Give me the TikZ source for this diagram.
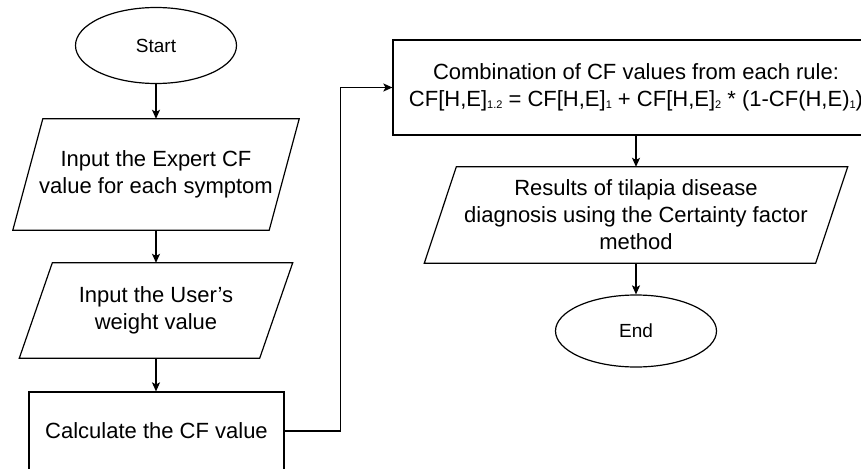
\documentclass[tikz,border=0pt]{standalone}
\usepackage{fontspec}
\setmainfont{Liberation Sans}
\usetikzlibrary{shapes.geometric,arrows.meta}
\newcommand\sbs[1]{\raisebox{-2pt}{\fontsize{11}{11}\selectfont#1}}
\begin{document}
\begin{tikzpicture}[x=1pt,y=-1pt,
  base/.style={align=center,font=\fontsize{22}{27}\selectfont,inner sep=0pt},
  term/.style={base,ellipse,draw,line width=1.2pt,minimum width=161pt,font=\fontsize{19}{22}\selectfont},
  io/.style={base},
  proc/.style={base,draw,line width=1.2pt},
  flow/.style={line width=1.2pt,-{Stealth[length=9pt,width=8pt,inset=2pt]}},
  outline/.style={line width=1.2pt}]
\useasboundingbox (0,0) rectangle (861,468);
\clip (0,0) rectangle (861,468);
\node[term,minimum height=76pt] (start) at (156,45.5) {Start};
\node[io,minimum width=256pt,minimum height=111pt] (in1) at (156,174.5) {Input the Expert CF\\value for each symptom};
\node[io,minimum width=240pt,minimum height=95pt] (in2) at (156,310.5) {Input the User's\\weight value};
\node[proc,minimum width=255pt,minimum height=78pt] (calc) at (156.5,431) {Calculate the CF value};
\node[proc,minimum width=486pt,minimum height=95pt] (comb) at (636,87.5) {Combination of CF values from each rule:\\CF[H,E]\sbs{1.2} = CF[H,E]\sbs{1} + CF[H,E]\sbs{2} * (1-CF(H,E)\sbs{1})};
\node[io,minimum width=391pt,minimum height=96pt] (res) at (636,215) {Results of tilapia disease\\diagnosis using the Certainty factor\\method};
\node[term,minimum height=72pt] (end) at (636,331) {End};
\draw[outline] ([xshift=15pt]in1.north west) -- ([xshift=15pt]in1.north east) -- ([xshift=-15pt]in1.south east) -- ([xshift=-15pt]in1.south west) -- cycle;
\draw[outline] ([xshift=16.5pt]in2.north west) -- ([xshift=16.5pt]in2.north east) -- ([xshift=-16.5pt]in2.south east) -- ([xshift=-16.5pt]in2.south west) -- cycle;
\draw[outline] ([xshift=16pt]res.north west) -- ([xshift=16pt]res.north east) -- ([xshift=-16pt]res.south east) -- ([xshift=-16pt]res.south west) -- cycle;
\draw[flow] (start.south) -- (in1.north);
\draw[flow] (in1.south) -- (in2.north);
\draw[flow] (in2.south) -- (calc.north -| in2.south);
\draw[flow] (calc.east) -- ++(56,0) |- (comb.west);
\draw[flow] (comb.south) -- (res.north);
\draw[flow] (res.south) -- (end.north);
\end{tikzpicture}
\end{document}
